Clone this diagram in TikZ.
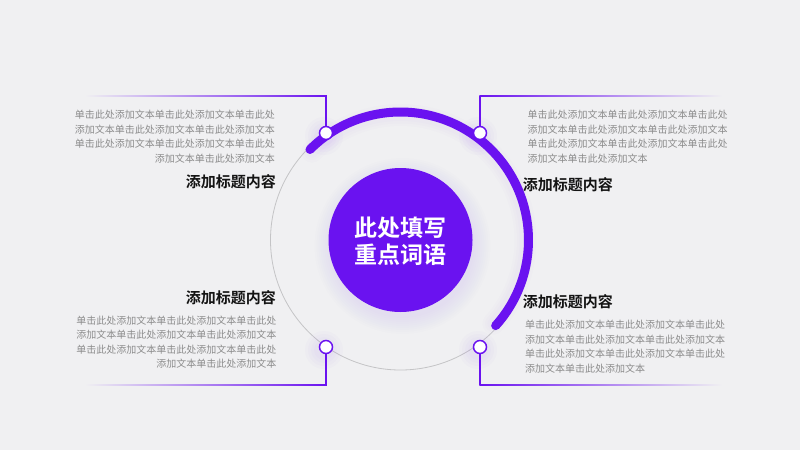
\documentclass[tikz,border=0pt]{standalone}
\usepackage{fontspec}
\usetikzlibrary{calc}
\setmainfont{Noto Sans CJK SC}[BoldFont={Noto Sans CJK SC Bold}]
\definecolor{bg}{HTML}{F0F0F2}
\definecolor{vio}{HTML}{6A12F0}
\definecolor{txtgray}{HTML}{8C8C8C}
\definecolor{ringgray}{HTML}{C4C4C6}
\tikzset{
  para/.style={font=\fontsize{10}{14.5}\selectfont, text=txtgray, inner sep=0pt},
  ttl/.style={font=\fontsize{15}{18}\selectfont\bfseries, text=black!92, inner sep=0pt},
  dot/.style={circle, minimum size=13pt, inner sep=0pt, fill=white, draw=vio, line width=1.5pt},
  vline/.style={draw=vio, line width=1.5pt},
}
\begin{document}
\begin{tikzpicture}[x=1pt,y=-1pt]
\fill[bg] (0,0) rectangle (800,450);
\useasboundingbox (0,0) rectangle (800,450);
\coordinate (o) at (400.5,240);
% thin ring
\draw[ringgray, line width=0.8pt] (o) circle (130);
% soft glow of thick arc
\foreach \w in {22,17,12} {
  \draw[vio, opacity=0.012, line width=\w pt, line cap=round] ($(o)+(-135:125)$) arc[start angle=-135, end angle=42, radius=125];
}
% thick arc
\draw[vio, line width=9pt, line cap=round] ($(o)+(-135:128)$) arc[start angle=-135, end angle=42, radius=128];
% center shadow
\foreach \r in {2,4,...,18} {
  \fill[vio, opacity=0.008] ($(o)+(2,6)$) circle (70+\r);
}
\node[circle, fill=vio, minimum size=144pt, inner sep=0pt] (core) at (o) {};
\node[font=\fontsize{23}{27}\selectfont\bfseries, text=white, align=center, inner sep=0pt] (corelbl) at (400.5,241.5) {此处填写\\重点词语};
% glow around small dots
\foreach \p in {(326,133),(480,133),(326,347),(480,347)} {
  \foreach \r in {3,6,9,12} { \fill[vio, opacity=0.015] \p ++(-2,3) circle (7+\r); }
}
% connector corners
\coordinate (k1) at (326,96);
\coordinate (k2) at (480,96);
\coordinate (k3) at (326,385);
\coordinate (k4) at (480,385);
% gradient horizontal lines
\shade[left color=bg, right color=vio] (85,95.25) rectangle (326.75,96.75);
\shade[left color=vio, right color=bg] (479.25,95.25) rectangle (722,96.75);
\shade[left color=bg, right color=vio] (85,384.25) rectangle (326.75,385.75);
\shade[left color=vio, right color=bg] (479.25,384.25) rectangle (722,385.75);
% dots
\node[dot] (c1) at (326,133) {};
\node[dot] (c2) at (480,133) {};
\node[dot] (c3) at (326,347) {};
\node[dot] (c4) at (480,347) {};
\draw[vline] (k1) -- (c1);
\draw[vline] (k2) -- (c2);
\draw[vline] (c3) -- (k3);
\draw[vline] (c4) -- (k4);
% paragraphs
\node[para, anchor=east, align=right] (p1) at (275,136.6) {单击此处添加文本单击此处添加文本单击此处\\添加文本单击此处添加文本单击此处添加文本\\单击此处添加文本单击此处添加文本单击此处\\添加文本单击此处添加文本};
\node[para, anchor=west, align=left] (p2) at (527.5,136.5) {单击此处添加文本单击此处添加文本单击此处\\添加文本单击此处添加文本单击此处添加文本\\单击此处添加文本单击此处添加文本单击此处\\添加文本单击此处添加文本};
\node[para, anchor=east, align=right] (p3) at (276.5,342) {单击此处添加文本单击此处添加文本单击此处\\添加文本单击此处添加文本单击此处添加文本\\单击此处添加文本单击此处添加文本单击此处\\添加文本单击此处添加文本};
\node[para, anchor=west, align=left] (p4) at (525,346.5) {单击此处添加文本单击此处添加文本单击此处\\添加文本单击此处添加文本单击此处添加文本\\单击此处添加文本单击此处添加文本单击此处\\添加文本单击此处添加文本};
% titles
\node[ttl, anchor=east] (t1) at (276,182) {添加标题内容};
\node[ttl, anchor=west] (t2) at (522.7,185) {添加标题内容};
\node[ttl, anchor=east] (t3) at (276,297.3) {添加标题内容};
\node[ttl, anchor=west] (t4) at (522.7,301.7) {添加标题内容};
\end{tikzpicture}
\end{document}
